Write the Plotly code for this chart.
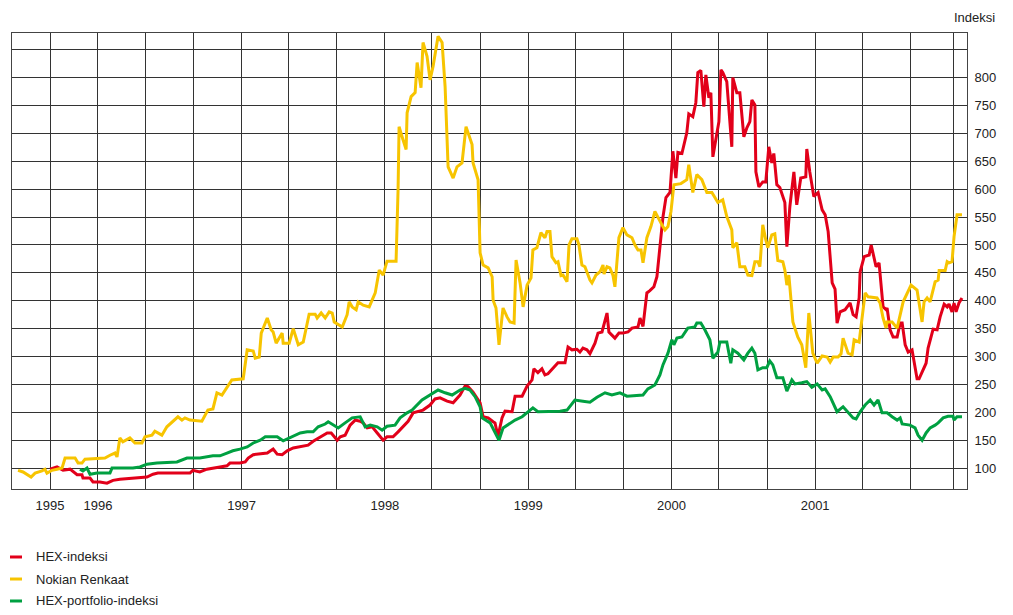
import datetime as dt
import plotly.graph_objects as go

# ---------------- data (decimal years, index values) ----------------
nokian_t = [1995.442, 1995.477, 1995.533, 1995.561, 1995.609, 1995.630, 1995.644, 1995.679, 1995.714, 1995.749,
            1995.770, 1995.840, 1995.861, 1995.888, 1995.909, 1996.049, 1996.084, 1996.119, 1996.133, 1996.153,
            1996.174, 1996.223, 1996.258, 1996.307, 1996.328, 1996.377, 1996.397, 1996.446, 1996.481, 1996.523,
            1996.558, 1996.586, 1996.607, 1996.642, 1996.725, 1996.767, 1996.802, 1996.830, 1996.865, 1996.934,
            1997.011, 1997.039, 1997.081, 1997.095, 1997.123, 1997.137, 1997.179, 1997.206, 1997.220, 1997.241,
            1997.283, 1997.290, 1997.332, 1997.360, 1997.395, 1997.430, 1997.471, 1997.513, 1997.527, 1997.555,
            1997.583, 1997.611, 1997.632, 1997.646, 1997.702, 1997.736, 1997.750, 1997.771, 1997.799, 1997.813,
            1997.848, 1997.890, 1997.932, 1997.960, 1997.987, 1998.015, 1998.078, 1998.092, 1998.099, 1998.120,
            1998.148, 1998.155, 1998.183, 1998.211, 1998.225, 1998.252, 1998.266, 1998.294, 1998.315, 1998.336,
            1998.371, 1998.399, 1998.420, 1998.441, 1998.476, 1998.503, 1998.538, 1998.566, 1998.594, 1998.608,
            1998.615, 1998.650, 1998.664, 1998.685, 1998.720, 1998.748, 1998.755, 1998.775, 1998.796, 1998.824,
            1998.852, 1998.873, 1998.901, 1998.915, 1998.943, 1998.964, 1998.992, 1999.020, 1999.033, 1999.061,
            1999.089, 1999.117, 1999.131, 1999.152, 1999.166, 1999.194, 1999.208, 1999.229, 1999.243, 1999.271,
            1999.285, 1999.305, 1999.340, 1999.354, 1999.375, 1999.396, 1999.431, 1999.445, 1999.473, 1999.501,
            1999.522, 1999.529, 1999.550, 1999.570, 1999.591, 1999.605, 1999.633, 1999.661, 1999.689, 1999.724,
            1999.745, 1999.766, 1999.787, 1999.801, 1999.828, 1999.856, 1999.884, 1999.905, 1999.933, 1999.954,
            1999.975, 1999.996, 2000.017, 2000.066, 2000.107, 2000.121, 2000.149, 2000.177, 2000.212, 2000.247,
            2000.282, 2000.324, 2000.358, 2000.386, 2000.421, 2000.428, 2000.456, 2000.477, 2000.512, 2000.533,
            2000.561, 2000.582, 2000.603, 2000.617, 2000.637, 2000.658, 2000.672, 2000.700, 2000.721, 2000.742,
            2000.777, 2000.791, 2000.805, 2000.819, 2000.847, 2000.881, 2000.909, 2000.937, 2000.958, 2000.986,
            2001.014, 2001.049, 2001.084, 2001.105, 2001.126, 2001.160, 2001.181, 2001.195, 2001.230, 2001.258,
            2001.272, 2001.307, 2001.328, 2001.349, 2001.370, 2001.432, 2001.453, 2001.474, 2001.495, 2001.502,
            2001.537, 2001.572, 2001.614, 2001.669, 2001.711, 2001.732, 2001.746, 2001.760, 2001.781, 2001.802,
            2001.837, 2001.858, 2001.865, 2001.907, 2001.921, 2001.934, 2001.955, 2001.969, 2001.990, 2002.025]
nokian_v = [96, 93, 84, 91, 95, 98, 91, 96, 98, 100,
            118, 118, 109, 109, 116, 118, 123, 127, 120, 154,
            147, 154, 145, 145, 156, 159, 166, 159, 174, 183,
            192, 186, 190, 186, 184, 204, 206, 235, 231, 258,
            260, 312, 310, 297, 299, 342, 369, 348, 344, 324,
            342, 324, 324, 350, 321, 326, 376, 376, 369, 378,
            369, 380, 378, 362, 353, 375, 398, 389, 384, 398,
            392, 389, 414, 455, 446, 471, 471, 599, 712, 694,
            671, 737, 766, 773, 827, 782, 863, 838, 796, 820,
            874, 863, 784, 640, 620, 640, 647, 712, 689, 680,
            647, 617, 486, 464, 459, 443, 401, 387, 321, 387,
            371, 362, 360, 473, 432, 389, 428, 441, 491, 495,
            522, 513, 524, 524, 479, 468, 470, 445, 446, 434,
            500, 511, 511, 500, 464, 461, 437, 432, 446, 452,
            464, 448, 461, 459, 446, 425, 513, 531, 518, 513,
            500, 491, 491, 468, 513, 533, 560, 549, 536, 527,
            533, 560, 608, 610, 617, 644, 594, 626, 617, 594,
            594, 576, 581, 551, 527, 495, 504, 461, 461, 446,
            445, 470, 470, 461, 536, 509, 495, 518, 520, 472,
            470, 455, 428, 446, 362, 335, 321, 280, 378, 306,
            288, 301, 299, 290, 299, 299, 305, 333, 306, 303,
            330, 326, 375, 414, 407, 405, 396, 369, 351, 362,
            362, 351, 398, 428, 419, 380, 362, 398, 405, 398,
            434, 437, 454, 454, 470, 468, 470, 515, 554, 554]

hex_t = [1995.665, 1995.714, 1995.756, 1995.805, 1995.854, 1995.888, 1995.895, 1995.944, 1995.965, 1996.014,
         1996.063, 1996.105, 1996.153, 1996.244, 1996.293, 1996.342, 1996.384, 1996.418, 1996.642, 1996.662,
         1996.711, 1996.760, 1996.851, 1996.900, 1996.921, 1996.990, 1997.025, 1997.046, 1997.081, 1997.179,
         1997.220, 1997.248, 1997.283, 1997.318, 1997.360, 1997.409, 1997.464, 1997.499, 1997.548, 1997.597,
         1997.625, 1997.646, 1997.667, 1997.688, 1997.722, 1997.757, 1997.792, 1997.827, 1997.848, 1997.876,
         1997.911, 1997.946, 1997.987, 1998.015, 1998.057, 1998.092, 1998.127, 1998.162, 1998.197, 1998.225,
         1998.266, 1998.315, 1998.350, 1998.385, 1998.434, 1998.476, 1998.524, 1998.559, 1998.580, 1998.615,
         1998.650, 1998.664, 1998.685, 1998.720, 1998.755, 1998.768, 1998.789, 1998.817, 1998.838, 1998.887,
         1998.908, 1998.957, 1998.992, 1999.027, 1999.040, 1999.068, 1999.096, 1999.117, 1999.138, 1999.173,
         1999.208, 1999.257, 1999.278, 1999.305, 1999.340, 1999.361, 1999.382, 1999.410, 1999.431, 1999.466,
         1999.487, 1999.515, 1999.550, 1999.563, 1999.605, 1999.633, 1999.661, 1999.696, 1999.724, 1999.766,
         1999.780, 1999.801, 1999.828, 1999.849, 1999.877, 1999.898, 1999.919, 1999.940, 1999.961, 1999.989,
         2000.010, 2000.031, 2000.045, 2000.073, 2000.107, 2000.121, 2000.149, 2000.170, 2000.184, 2000.205,
         2000.226, 2000.240, 2000.261, 2000.275, 2000.289, 2000.331, 2000.345, 2000.358, 2000.386, 2000.421,
         2000.428, 2000.456, 2000.477, 2000.505, 2000.526, 2000.547, 2000.561, 2000.582, 2000.589, 2000.610,
         2000.637, 2000.658, 2000.679, 2000.700, 2000.714, 2000.735, 2000.756, 2000.777, 2000.791, 2000.805,
         2000.826, 2000.854, 2000.874, 2000.902, 2000.937, 2000.944, 2000.965, 2000.993, 2001.021, 2001.049,
         2001.070, 2001.091, 2001.119, 2001.139, 2001.153, 2001.174, 2001.209, 2001.244, 2001.265, 2001.286,
         2001.307, 2001.314, 2001.342, 2001.377, 2001.391, 2001.425, 2001.446, 2001.474, 2001.495, 2001.502,
         2001.523, 2001.544, 2001.572, 2001.593, 2001.607, 2001.628, 2001.649, 2001.676, 2001.711, 2001.725,
         2001.753, 2001.774, 2001.788, 2001.816, 2001.823, 2001.851, 2001.872, 2001.900, 2001.921, 2001.934,
         2001.955, 2001.969, 2001.983, 2002.004, 2002.025]
hex_v = [98, 102, 96, 98, 88, 88, 82, 82, 75, 75,
         73, 78, 80, 82, 84, 84, 89, 91, 91, 96,
         93, 98, 102, 104, 109, 109, 111, 118, 124, 127,
         134, 125, 124, 131, 136, 138, 141, 148, 156, 163,
         163, 157, 150, 156, 159, 177, 186, 184, 181, 172,
         174, 163, 150, 156, 156, 165, 174, 184, 199, 201,
         204, 213, 224, 226, 220, 217, 231, 247, 246, 236,
         222, 217, 192, 190, 183, 181, 157, 190, 202, 201,
         229, 229, 247, 258, 278, 271, 278, 267, 269, 280,
         289, 289, 317, 312, 313, 308, 315, 312, 305, 324,
         342, 344, 378, 344, 333, 342, 342, 344, 351, 353,
         369, 354, 414, 418, 425, 443, 497, 550, 585, 594,
         668, 620, 666, 664, 701, 735, 730, 755, 809, 813,
         748, 805, 764, 773, 658, 721, 814, 809, 793, 676,
         800, 773, 773, 694, 710, 721, 760, 751, 631, 604,
         613, 613, 676, 647, 664, 608, 603, 587, 576, 497,
         569, 631, 572, 620, 622, 672, 631, 587, 594, 563,
         554, 524, 432, 421, 360, 380, 384, 396, 375, 371,
         405, 452, 479, 482, 500, 461, 468, 389, 384, 387,
         348, 335, 335, 360, 360, 321, 308, 312, 260, 260,
         276, 288, 315, 344, 349, 348, 371, 394, 389, 394,
         380, 396, 380, 396, 405]

port_t = [1995.874, 1995.895, 1995.923, 1995.944, 1995.993, 1996.084, 1996.098, 1996.244, 1996.293, 1996.342,
          1996.411, 1996.551, 1996.621, 1996.711, 1996.802, 1996.851, 1996.900, 1996.941, 1996.990, 1997.039,
          1997.081, 1997.109, 1997.130, 1997.165, 1997.199, 1997.248, 1997.290, 1997.339, 1997.388, 1997.409,
          1997.457, 1997.499, 1997.534, 1997.583, 1997.604, 1997.639, 1997.674, 1997.722, 1997.771, 1997.827,
          1997.862, 1997.897, 1997.946, 1997.980, 1998.015, 1998.071, 1998.106, 1998.155, 1998.190, 1998.259,
          1998.315, 1998.371, 1998.420, 1998.469, 1998.524, 1998.559, 1998.594, 1998.629, 1998.664, 1998.678,
          1998.734, 1998.768, 1998.796, 1998.824, 1998.873, 1998.908, 1998.957, 1998.999, 1999.033, 1999.068,
          1999.152, 1999.222, 1999.271, 1999.326, 1999.382, 1999.431, 1999.480, 1999.536, 1999.584, 1999.640,
          1999.689, 1999.801, 1999.835, 1999.884, 1999.919, 1999.940, 1999.975, 2000.003, 2000.017, 2000.038,
          2000.073, 2000.114, 2000.163, 2000.177, 2000.205, 2000.233, 2000.268, 2000.289, 2000.324, 2000.338,
          2000.386, 2000.414, 2000.428, 2000.463, 2000.505, 2000.533, 2000.561, 2000.582, 2000.603, 2000.637,
          2000.665, 2000.686, 2000.707, 2000.735, 2000.777, 2000.805, 2000.840, 2000.861, 2000.909, 2000.944,
          2000.979, 2001.014, 2001.049, 2001.070, 2001.105, 2001.126, 2001.153, 2001.195, 2001.230, 2001.265,
          2001.286, 2001.314, 2001.349, 2001.384, 2001.411, 2001.439, 2001.467, 2001.502, 2001.537, 2001.572,
          2001.593, 2001.607, 2001.662, 2001.697, 2001.718, 2001.746, 2001.774, 2001.802, 2001.837, 2001.858,
          2001.893, 2001.927, 2001.962, 2001.969, 2001.990, 2002.025]
port_v = [98, 95, 100, 89, 91, 91, 100, 100, 102, 107,
          109, 111, 118, 118, 122, 122, 127, 131, 134, 138,
          145, 148, 150, 156, 156, 156, 149, 155, 161, 163,
          165, 165, 174, 179, 183, 177, 172, 181, 190, 192,
          174, 177, 174, 168, 175, 177, 190, 199, 204, 222,
          231, 240, 235, 231, 240, 243, 240, 228, 210, 190,
          181, 165, 150, 172, 181, 186, 192, 201, 208, 201,
          201, 202, 204, 222, 220, 218, 227, 235, 231, 235,
          229, 231, 242, 249, 267, 285, 306, 330, 321, 333,
          335, 351, 353, 360, 360, 348, 330, 297, 308, 326,
          326, 288, 312, 306, 294, 306, 315, 306, 276, 280,
          280, 292, 285, 262, 262, 238, 258, 251, 253, 255,
          245, 251, 240, 242, 228, 217, 201, 210, 199, 190,
          188, 201, 213, 222, 213, 222, 199, 199, 192, 186,
          190, 179, 177, 172, 159, 150, 163, 172, 177, 181,
          190, 193, 193, 186, 192, 192]

series_names = ["HEX-indeksi", "Nokian Renkaat", "HEX-portfolio-indeksi"]
series_colors = ["#E2001A", "#F7C400", "#00A041"]

y_ticks = [100, 150, 200, 250, 300, 350, 400, 450, 500, 550, 600, 650, 700, 750, 800, 850]
y_labels = ["100", "150", "200", "250", "300", "350", "400", "450", "500", "550", "600", "650", "700",
            "750", "800", ""]

x_grid = ["1995-09-01", "1996-01-01", "1996-05-01", "1996-09-01", "1997-01-01", "1997-05-01", "1997-09-01",
          "1998-01-01", "1998-05-01", "1998-09-01", "1999-01-01", "1999-05-01", "1999-09-01", "2000-01-01",
          "2000-05-01", "2000-09-01", "2001-01-01", "2001-05-01", "2001-09-01", "2001-12-19"]
x_labels = ["1995", "1996", "", "", "1997", "", "", "1998", "", "", "1999", "", "", "2000", "", "",
            "2001", "", "", ""]


def to_date(y):
    yr = int(y)
    return dt.datetime(yr, 1, 1) + dt.timedelta(days=(y - yr) * 365.25)


FONT = "Liberation Sans Narrow, Arial Narrow, Liberation Sans, Arial, sans-serif"

fig = go.Figure()
for name, color, t, v in [(series_names[0], series_colors[0], hex_t, hex_v),
                          (series_names[1], series_colors[1], nokian_t, nokian_v),
                          (series_names[2], series_colors[2], port_t, port_v)]:
    fig.add_trace(go.Scatter(x=[to_date(a) for a in t], y=v, mode="lines", name=name,
                             showlegend=False, line=dict(color=color, width=3)))

# legend key (drawn below the plot, like the original's key)
shapes = []
annotations = []
legend_rows = [-0.1491, -0.1974, -0.2456]
for name, color, yy in zip(series_names, series_colors, legend_rows):
    shapes.append(dict(type="line", xref="paper", yref="paper", x0=-0.0021, x1=0.0105, y0=yy, y1=yy,
                       line=dict(color=color, width=3)))
    annotations.append(dict(text=name, xref="paper", yref="paper", x=0.023, y=yy, xanchor="left",
                            yanchor="middle", showarrow=False, font=dict(size=13, color="#222")))
annotations.append(dict(text="Indeksi", xref="paper", yref="paper", x=1.0314, y=1.035,
                        xanchor="right", yanchor="middle", showarrow=False,
                        font=dict(size=13, color="#222")))

fig.update_layout(
    width=1005, height=607,
    margin=dict(l=4, r=46, t=25, b=126, autoexpand=False),
    paper_bgcolor="white", plot_bgcolor="white",
    font=dict(family=FONT, size=13, color="#222"),
    showlegend=False,
    xaxis=dict(type="date", range=[to_date(1995.400), to_date(2002.060)],
               tickmode="array", tickvals=x_grid, ticktext=x_labels, automargin=False,
               showgrid=True, gridcolor="#333", gridwidth=1,
               showline=True, linecolor="#444", linewidth=1, mirror=True,
               ticks="outside", ticklen=4, tickcolor="rgba(0,0,0,0)",
               tickfont=dict(size=13, color="#222"), zeroline=False),
    yaxis=dict(side="right", range=[62.5, 880], tickmode="array", tickvals=y_ticks, ticktext=y_labels,
               automargin=False,
               showgrid=True, gridcolor="#333", gridwidth=1,
               showline=True, linecolor="#444", linewidth=1, mirror=True,
               ticks="outside", ticklen=4, tickcolor="rgba(0,0,0,0)",
               tickfont=dict(size=13, color="#222"), zeroline=False),
    shapes=shapes,
    annotations=annotations,
)

fig.write_html("out.html")
